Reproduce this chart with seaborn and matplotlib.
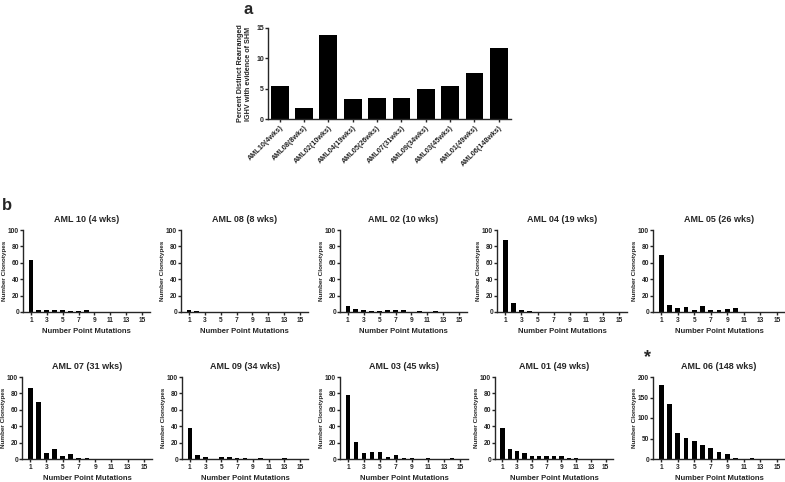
import numpy as np
import matplotlib
matplotlib.use("Agg")
import matplotlib.pyplot as plt
import seaborn as sns

# panel a
samples_a = ["AML10(4wks)", "AML08(8wks)", "AML02(10wks)", "AML04(19wks)", "AML05(26wks)",
             "AML07(31wks)", "AML09(34wks)", "AML03(45wks)", "AML01(49wks)", "AML06(148wks)"]
pct_shm = [5.5, 1.8, 13.8, 3.3, 3.5, 3.5, 5.0, 5.4, 7.6, 11.7]

# panel b
mutations = list(range(1, 16))
titles_b = ["AML 10 (4 wks)", "AML 08 (8 wks)", "AML 02 (10 wks)", "AML 04 (19 wks)", "AML 05 (26 wks)",
            "AML 07 (31 wks)", "AML 09 (34 wks)", "AML 03 (45 wks)", "AML 01 (49 wks)", "AML 06 (148 wks)"]
aml10 = [64, 2, 3, 2, 2, 1, 1, 2, 0, 0, 0, 0, 0, 0, 0]
aml08 = [3, 1, 0, 0, 0, 0, 0, 0, 0, 0, 0, 0, 0, 0, 0]
aml02 = [7, 4, 3, 1, 1, 2, 3, 2, 0, 1, 0, 1, 0, 0, 0]
aml04 = [88, 11, 3, 1, 0, 0, 0, 0, 0, 0, 0, 0, 0, 0, 0]
aml05 = [70, 8, 5, 6, 3, 7, 2, 2, 4, 5, 0, 0, 0, 0, 0]
aml07 = [86, 69, 7, 12, 4, 6, 1, 1, 0, 0, 0, 0, 0, 0, 0]
aml09 = [38, 5, 2, 0, 2, 2, 1, 1, 0, 1, 0, 0, 1, 0, 0]
aml03 = [78, 21, 7, 9, 9, 2, 5, 1, 1, 0, 1, 0, 0, 1, 0]
aml01 = [38, 12, 10, 7, 4, 4, 4, 4, 4, 1, 1, 0, 0, 0, 0]
aml06 = [180, 133, 64, 51, 45, 33, 26, 16, 11, 2, 1, 2, 0, 0, 0]
counts_b = [aml10, aml08, aml02, aml04, aml05, aml07, aml09, aml03, aml01, aml06]

sns.set_theme(style="ticks")
plt.rcParams['font.family'] = ['Liberation Sans', 'DejaVu Sans']
plt.rcParams['font.weight'] = 'bold'
plt.rcParams['axes.labelweight'] = 'bold'
plt.rcParams['axes.linewidth'] = 1.0
plt.rcParams['xtick.major.width'] = 1.0
plt.rcParams['ytick.major.width'] = 1.0
plt.rcParams['xtick.major.size'] = 2.2
plt.rcParams['ytick.major.size'] = 2.2
plt.rcParams['xtick.major.pad'] = 1.5
plt.rcParams['ytick.major.pad'] = 0.6

W, H = 785, 482
fig = plt.figure(figsize=(W / 100, H / 100), dpi=100)


def box(x0, y0, x1, y1):
    return [x0 / W, 1 - y1 / H, (x1 - x0) / W, (y1 - y0) / H]


# ---- panel a
ax = fig.add_axes(box(268, 28, 511, 119))
sns.barplot(x=samples_a, y=pct_shm, color='black', width=0.73, saturation=1,
            linewidth=0, ax=ax)
ax.set_xlim(-0.48, 9.5)
ax.set_ylim(0, 15)
ax.set_yticks([0, 5, 10, 15])
ax.tick_params(axis='both', labelsize=5)
ax.set_xticks(range(len(samples_a)))
ax.set_xticklabels(samples_a, rotation=45, ha='right', rotation_mode='anchor', fontsize=5.2)
ax.set_ylabel("Percent Distinct Rearranged\nIGHV with evidence of SHM", fontsize=5.2, labelpad=3)
sns.despine(ax=ax)
fig.text(248 / W, 1 - 10 / H, "a", fontsize=12, fontweight='bold', ha='center', va='center')
fig.text(7 / W, 1 - 205 / H, "b", fontsize=12, fontweight='bold', ha='center', va='center')

# ---- panel b
cols = [(23, 150), (181, 308), (340, 467), (497, 627), (653, 785)]
cols2 = [(22, 152), (182, 308), (340, 468), (495, 613), (653, 785)]
rows = [(230, 312), (377, 459)]
for i, (title, vals) in enumerate(zip(titles_b, counts_b)):
    r, c = divmod(i, 5)
    x0, x1 = (cols if r == 0 else cols2)[c]
    y0, y1 = rows[r]
    ax = fig.add_axes(box(x0, y0, x1, y1))
    sns.barplot(x=mutations, y=vals, native_scale=True, width=0.6, color='black',
                saturation=1, linewidth=0, ax=ax)
    ax.set_xlim(0, 16)
    if max(vals) > 100:
        ax.set_ylim(0, 200)
        ax.set_yticks([0, 50, 100, 150, 200])
    else:
        ax.set_ylim(0, 100)
        ax.set_yticks([0, 20, 40, 60, 80, 100])
    ax.set_xticks([1, 3, 5, 7, 9, 11, 13, 15])
    ax.tick_params(axis='both', labelsize=4.8)
    ax.set_title(title, fontsize=6.5, fontweight='bold', pad=6)
    ax.set_xlabel("Number Point Mutations", fontsize=5.5, labelpad=2.5)
    ax.set_ylabel("Number Clonotypes", fontsize=4.6, labelpad=0.8)
    sns.despine(ax=ax)

fig.text(648 / W, 1 - 358 / H, "*", fontsize=13, fontweight='bold', ha='center', va='center')

fig.savefig("out.png", dpi=100)
